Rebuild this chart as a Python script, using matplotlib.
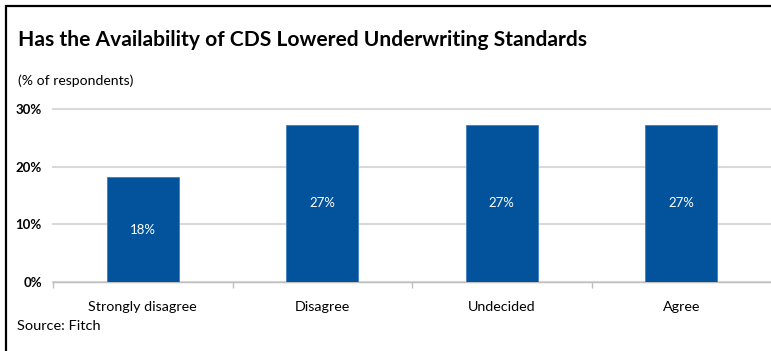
import matplotlib
matplotlib.use("Agg")
import matplotlib.pyplot as plt
from matplotlib.patches import Rectangle

categories = ["Strongly disagree", "Disagree", "Undecided", "Agree"]
values = [18.2, 27.3, 27.3, 27.3]
value_labels = ["18%", "27%", "27%", "27%"]
yticks = [0, 10, 20, 30]
ytick_labels = ["0%", "10%", "20%", "30%"]

title = "Has the Availability of CDS Lowered Underwriting Standards"
subtitle = "(% of respondents)"
source = "Source: Fitch"

W, H = 771, 351
plt.rcParams['font.family'] = ['Lato', 'DejaVu Sans']
fig = plt.figure(figsize=(W / 100, H / 100), dpi=100)
renderer = fig.canvas.get_renderer()


def fit_size(text, target_px, weight="normal", base=12):
    t = fig.text(0, 0, text, fontsize=base, fontweight=weight)
    w = t.get_window_extent(renderer).width
    t.remove()
    return base * target_px / w


ax = fig.add_axes([53 / W, 1 - 282 / H, (771 - 53) / W, (282 - 109) / H])
bar_color = "#03539C"
x = list(range(len(categories)))
ax.bar(x, values, width=0.4, color=bar_color, edgecolor="#3f7fc0", linewidth=0.6, zorder=3)
for xi, v, lab in zip(x, values, value_labels):
    ax.text(xi, v / 2, lab, color="white", ha="center", va="center", fontsize=9.5, zorder=4)

cat_fs = fit_size("Strongly disagree", 108)
ax.set_xlim(-0.5, len(categories) - 0.5)
ax.set_ylim(0, 30)
ax.set_yticks(yticks)
ax.set_yticklabels(ytick_labels, fontsize=9.5, fontweight="bold")
ax.yaxis.grid(True, color="#d9d9d9", linewidth=1.5, zorder=0)
for gl in ax.get_ygridlines():
    gl.set_clip_on(False)
ax.set_axisbelow(True)
for s in ["top", "right", "left"]:
    ax.spines[s].set_visible(False)
ax.spines["bottom"].set_color("#bfbfbf")
ax.spines["bottom"].set_linewidth(1.0)
ax.tick_params(axis="y", length=0, pad=8)
ax.set_xticks(x)
ax.set_xticklabels(categories, fontsize=cat_fs)
ax.tick_params(axis="x", length=0, pad=14)
ax.set_xticks([i - 0.5 for i in range(len(categories))], minor=True)
ax.tick_params(axis="x", which="minor", length=4, color="#bfbfbf", width=1.0)

fig.text(18 / W, 1 - 40 / H, title, fontsize=fit_size(title, 565, "bold"), fontweight="bold",
         va="center", ha="left")
fig.text(18 / W, 1 - 81 / H, subtitle, fontsize=fit_size(subtitle, 115), va="center", ha="left")
fig.text(17 / W, 1 - 326 / H, source, fontsize=fit_size(source, 83), va="center", ha="left")

fig.patches.append(Rectangle((6 / W, -0.1), 1.2, 1 - 6 / H + 0.1, transform=fig.transFigure,
                             fill=False, edgecolor="black", linewidth=1.6))

fig.savefig("out.png", dpi=100)
